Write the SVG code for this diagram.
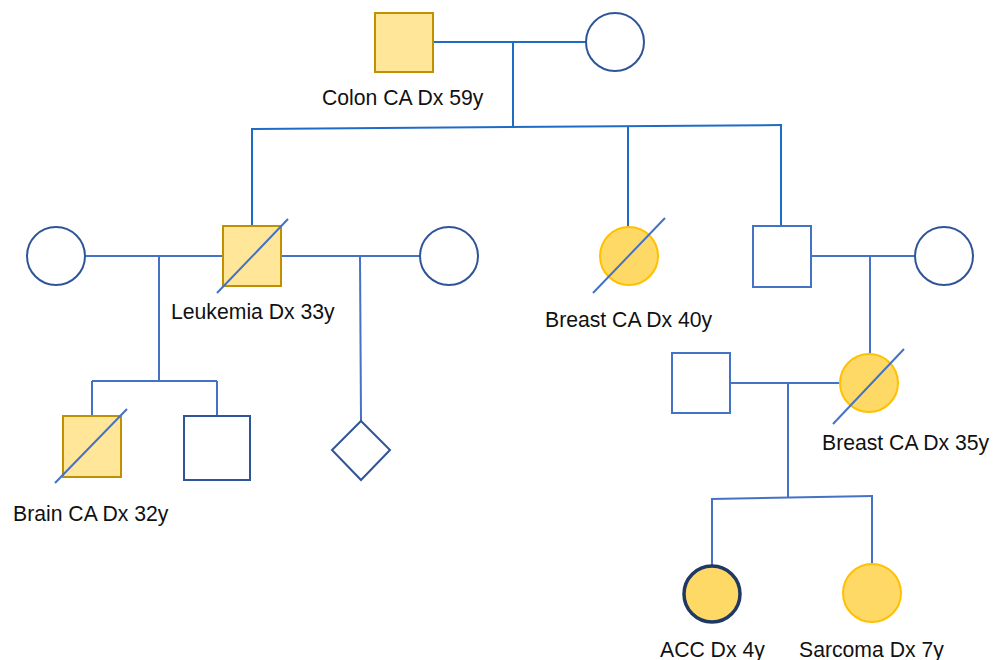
<svg xmlns="http://www.w3.org/2000/svg" width="993" height="660" viewBox="0 0 993 660">
  <style>
    .bg { fill: #ffffff; }
    .link { fill: none; stroke: #4472C4; stroke-width: 2; }
    .link-top { fill: none; stroke: #1F6CC6; stroke-width: 2; }
    .open { fill: #ffffff; stroke: #2F5597; stroke-width: 2; }
    .open-light { fill: #ffffff; stroke: #4472C4; stroke-width: 2; }
    .aff-m { fill: #FFE699; stroke: #BF9000; stroke-width: 2; }
    .aff-f { fill: #FFD966; stroke: #FFC000; stroke-width: 2; }
    .proband { fill: #FFD966; stroke: #203864; stroke-width: 3.5; }
    .dead { stroke: #4472C4; stroke-width: 2; }
    .label { font-family: "Liberation Sans", Arial, sans-serif; font-size: 21.2px; fill: #111111; }
  </style>
  <rect class="bg" x="0" y="0" width="993" height="660"/>

  <g id="connectors">
    <!-- generation I -->
    <line class="link-top" x1="433" y1="42" x2="586" y2="42"/>
    <line class="link-top" x1="513" y1="42" x2="513" y2="128"/>
    <line class="link-top" x1="251" y1="129" x2="782" y2="125"/>
    <line class="link-top" x1="252" y1="128" x2="252" y2="226"/>
    <line class="link-top" x1="628" y1="127" x2="628" y2="227"/>
    <line class="link-top" x1="781" y1="125" x2="781" y2="226"/>
    <!-- generation II, left -->
    <line class="link" x1="85" y1="256" x2="223" y2="256"/>
    <line class="link" x1="282" y1="256" x2="420" y2="256"/>
    <line class="link" x1="159" y1="256" x2="159" y2="381"/>
    <line class="link" x1="92" y1="381" x2="217" y2="381"/>
    <line class="link" x1="92" y1="381" x2="92" y2="416"/>
    <line class="link" x1="217" y1="381" x2="217" y2="416"/>
    <line class="link" x1="360" y1="256" x2="361" y2="421"/>
    <!-- generation II, right -->
    <line class="link" x1="811" y1="256" x2="915" y2="256"/>
    <line class="link" x1="870" y1="256" x2="870" y2="353"/>
    <!-- generation III -->
    <line class="link" x1="730" y1="383" x2="840" y2="383"/>
    <line class="link" x1="788" y1="383" x2="788" y2="498"/>
    <line class="link" x1="711" y1="499" x2="873" y2="496"/>
    <line class="link" x1="712" y1="499" x2="712" y2="565"/>
    <line class="link" x1="872" y1="496" x2="872" y2="564"/>
  </g>

  <g id="grandfather">
    <rect class="aff-m" x="375" y="13" width="58" height="59"/>
    <text class="label" x="322" y="105">Colon CA Dx 59y</text>
  </g>
  <g id="grandmother">
    <circle class="open" cx="615" cy="42" r="29"/>
  </g>

  <g id="wife-1">
    <circle class="open" cx="56" cy="256" r="29"/>
  </g>
  <g id="father-left">
    <rect class="aff-m" x="223" y="226" width="58" height="60"/>
    <line class="dead" x1="217" y1="293" x2="288" y2="219"/>
    <text class="label" x="171" y="319">Leukemia Dx 33y</text>
  </g>
  <g id="wife-2">
    <circle class="open" cx="449" cy="256" r="29"/>
  </g>
  <g id="aunt">
    <circle class="aff-f" cx="629" cy="256" r="29"/>
    <line class="dead" x1="593" y1="293" x2="665" y2="218"/>
    <text class="label" x="545" y="327">Breast CA Dx 40y</text>
  </g>
  <g id="uncle">
    <rect class="open-light" x="753" y="226" width="58" height="61"/>
  </g>
  <g id="uncle-wife">
    <circle class="open" cx="944" cy="256" r="29"/>
  </g>

  <g id="son-1">
    <rect class="aff-m" x="63" y="416" width="58" height="61"/>
    <line class="dead" x1="55" y1="483" x2="127" y2="409"/>
    <text class="label" x="13" y="521">Brain CA Dx 32y</text>
  </g>
  <g id="son-2">
    <rect class="open" x="184" y="416" width="66" height="64"/>
  </g>
  <g id="child-unknown">
    <polygon class="open" points="361,421 390,450 361,480 332,450"/>
  </g>
  <g id="cousin-husband">
    <rect class="open-light" x="672" y="353" width="58" height="60"/>
  </g>
  <g id="cousin">
    <circle class="aff-f" cx="869" cy="383" r="29"/>
    <line class="dead" x1="833" y1="424" x2="904" y2="349"/>
    <text class="label" x="822" y="450">Breast CA Dx 35y</text>
  </g>

  <g id="proband">
    <circle class="proband" cx="712" cy="594" r="28"/>
    <text class="label" x="660" y="657">ACC Dx 4y</text>
  </g>
  <g id="sibling">
    <circle class="aff-f" cx="872" cy="593" r="29"/>
    <text class="label" x="799" y="657">Sarcoma Dx 7y</text>
  </g>
</svg>
